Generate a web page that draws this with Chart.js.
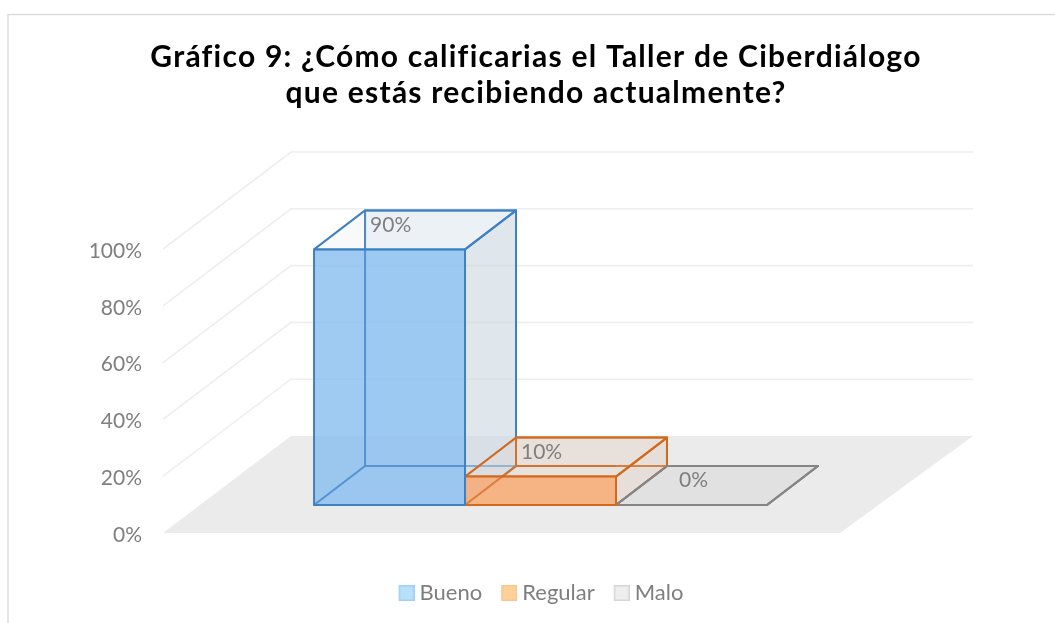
<!DOCTYPE html>
<html>
<head>
<meta charset="utf-8">
<style>html,body{margin:0;padding:0;background:#fff}canvas{display:block}</style>
<script src="https://cdn.jsdelivr.net/npm/chart.js@4"></script>
</head>
<body>
<div style="width:1055px;height:623px"><canvas id="c" width="1055" height="623"></canvas></div>
<script>
const chartTitle = ['Gráfico 9: ¿Cómo calificarias el Taller de Ciberdiálogo', 'que estás recibiendo actualmente?'];
const categories = ['Taller de Ciberdiálogo'];
const seriesNames = ['Bueno', 'Regular', 'Malo'];
const bueno = [90];
const regular = [10];
const malo = [0];
const yTicks = [0, 20, 40, 60, 80, 100];

const frontFill = ['rgba(135,190,240,0.8)', 'rgba(248,170,115,0.85)', 'rgba(225,225,225,0.8)'];
const edge = ['#3f80c2', '#d2691f', '#858585'];
const backFill = ['rgba(215,225,235,0.38)', 'rgba(225,205,190,0.2)', 'rgba(190,190,190,0.12)'];
const sideFill = ['rgba(205,215,225,0.5)', 'rgba(225,205,190,0.25)', 'rgba(190,190,190,0.12)'];
const topFill = ['rgba(225,232,240,0.25)', 'rgba(230,210,195,0.2)', 'rgba(200,200,200,0.12)'];
const legendBox = [['#b8e0fb', '#9fd0f7'], ['#ffd09a', '#fcc58c'], ['#eeeeee', '#d6d6d6']];
const grey = '#7f7f7f';
const floorDepth = {l: 128, r: 133, y: 97};
const barDepth = {x: 51, y: 39};
const barShift = {x: 39, y: 28};
const labelOffset = [[5, 15], [5, 15], [12, 14]];

function poly(ctx, pts, fill, stroke, lw) {
  ctx.beginPath();
  pts.forEach((p, i) => i ? ctx.lineTo(p[0], p[1]) : ctx.moveTo(p[0], p[1]));
  ctx.closePath();
  if (fill) { ctx.fillStyle = fill; ctx.fill(); }
  if (stroke) { ctx.strokeStyle = stroke; ctx.lineWidth = lw || 2; ctx.lineJoin = 'round'; ctx.stroke(); }
}
function boxOf(chart, i) {
  const el = chart.getDatasetMeta(i).data[0];
  return {l: el.x - el.width / 2 + barShift.x, r: el.x + el.width / 2 + barShift.x,
          t: el.y - barShift.y, b: el.base - barShift.y};
}
// legend swatch: blank on the left so that the 16px box sits close to its text
function swatch(i) {
  const c = document.createElement('canvas');
  c.width = 22; c.height = 16;
  const x = c.getContext('2d');
  x.fillStyle = legendBox[i][0];
  x.fillRect(6, 0, 16, 16);
  x.strokeStyle = legendBox[i][1]; x.lineWidth = 1.5;
  x.strokeRect(6.75, 0.75, 14.5, 14.5);
  return c;
}

const scene = {
  id: 'scene',
  beforeDraw(chart) {
    const ctx = chart.ctx;
    ctx.save();
    ctx.strokeStyle = '#dcdcdc'; ctx.lineWidth = 1.5;
    ctx.beginPath(); ctx.moveTo(8, 623); ctx.lineTo(8, 14.5); ctx.lineTo(1055, 14.5); ctx.stroke();
    ctx.restore();
    if (!chart.titleBlock._spaced) {
      const d = chart.titleBlock.draw;
      chart.titleBlock.draw = function () {
        ctx.save(); ctx.letterSpacing = '1.25px'; d.call(this); ctx.restore();
      };
      chart.titleBlock._spaced = true;
    }
  },
  afterLayout(chart) {
    const lg = chart.legend;
    lg.left += 5; lg.right += 5;
    lg.adjustHitBoxes();
  },
  beforeDatasetsDraw(chart) {
    const ctx = chart.ctx, a = chart.chartArea, ys = chart.scales.y;
    ctx.save();
    const y0 = ys.getPixelForValue(0);
    poly(ctx, [[a.left, y0], [a.left + floorDepth.l, y0 - floorDepth.y],
               [a.right + floorDepth.r, y0 - floorDepth.y], [a.right, y0]], '#ebebeb');
    ctx.strokeStyle = '#eeeeee'; ctx.lineWidth = 1.6;
    yTicks.filter(v => v > 0).forEach(v => {
      const y = ys.getPixelForValue(v);
      ctx.beginPath();
      ctx.moveTo(a.left, y);
      ctx.lineTo(a.left + floorDepth.l, y - floorDepth.y);
      ctx.lineTo(a.right + floorDepth.r, y - floorDepth.y);
      ctx.stroke();
    });
    const dx = barDepth.x, dy = barDepth.y;
    seriesNames.forEach((_, i) => {
      const b = boxOf(chart, i);
      poly(ctx, [[b.l, b.b], [b.r, b.b], [b.r + dx, b.b - dy], [b.l + dx, b.b - dy]], backFill[i], edge[i], 2);
      poly(ctx, [[b.l + dx, b.t - dy], [b.r + dx, b.t - dy], [b.r + dx, b.b - dy], [b.l + dx, b.b - dy]], backFill[i], edge[i], 2);
      poly(ctx, [[b.r, b.t], [b.r + dx, b.t - dy], [b.r + dx, b.b - dy], [b.r, b.b]], sideFill[i], edge[i], 2);
      poly(ctx, [[b.l, b.t], [b.r, b.t], [b.r + dx, b.t - dy], [b.l + dx, b.t - dy]], topFill[i], edge[i], 2);
    });
    ctx.restore();
    ctx.save();
    ctx.translate(barShift.x, -barShift.y);
  },
  afterDatasetsDraw(chart) {
    const ctx = chart.ctx;
    ctx.restore();
    ctx.save();
    const dx = barDepth.x, dy = barDepth.y;
    const vals = [bueno[0], regular[0], malo[0]];
    // hidden edges show through the translucent front faces
    ctx.globalAlpha = 0.6;
    [0, 1].forEach(i => {
      const b = boxOf(chart, i);
      ctx.strokeStyle = edge[i]; ctx.lineWidth = 2;
      ctx.beginPath();
      ctx.moveTo(b.l, b.b); ctx.lineTo(b.l + dx, b.b - dy);
      ctx.moveTo(Math.min(b.l + dx, b.r), b.b - dy); ctx.lineTo(b.r, b.b - dy);
      ctx.moveTo(b.l + dx, b.t - dy); ctx.lineTo(b.l + dx, b.b - dy);
      ctx.stroke();
    });
    ctx.globalAlpha = 1;
    [2, 1, 0].forEach(i => {
      const b = boxOf(chart, i);
      poly(ctx, [[b.l, b.t], [b.r, b.t], [b.r, b.b], [b.l, b.b]], null, edge[i], 2);
    });
    ctx.font = '21px Lato'; ctx.fillStyle = grey;
    ctx.textAlign = 'left'; ctx.textBaseline = 'middle';
    vals.forEach((v, i) => {
      const b = boxOf(chart, i);
      ctx.fillText(v + '%', b.l + dx + labelOffset[i][0], b.t - dy + labelOffset[i][1]);
    });
    ctx.restore();
  }
};

new Chart(document.getElementById('c'), {
  type: 'bar',
  data: {
    labels: categories,
    datasets: [
      {label: seriesNames[0], data: bueno, backgroundColor: frontFill[0]},
      {label: seriesNames[1], data: regular, backgroundColor: frontFill[1]},
      {label: seriesNames[2], data: malo, backgroundColor: frontFill[2]}
    ]
  },
  options: {
    responsive: false,
    animation: false,
    devicePixelRatio: 1,
    categoryPercentage: 0.669,
    barPercentage: 1,
    layout: {padding: {left: 17, right: 0, top: 0, bottom: 9}},
    plugins: {
      tooltip: {enabled: false},
      title: {
        display: true,
        text: chartTitle,
        color: '#000',
        font: {family: 'Lato', size: 30, weight: 'bold', lineHeight: 1.2},
        padding: {top: 39, bottom: 138}
      },
      legend: {
        position: 'bottom',
        labels: {
          color: grey, font: {family: 'Lato', size: 22}, padding: 19,
          usePointStyle: true, pointStyleWidth: 10, boxHeight: 16,
          generateLabels(chart) {
            return Chart.defaults.plugins.legend.labels.generateLabels(chart)
              .map((it, i) => Object.assign(it, {pointStyle: swatch(i)}));
          }
        }
      }
    },
    scales: {
      x: {
        display: true,
        grid: {display: false, drawTicks: false},
        border: {display: false},
        ticks: {display: false},
        afterFit(s) { s.height = 30; }
      },
      y: {
        min: 0, max: 100,
        grid: {display: false, drawTicks: false},
        border: {display: false},
        afterFit(s) { s.width = 146; },
        ticks: {
          padding: 21, stepSize: 20, color: grey, labelOffset: 2,
          font: {family: 'Lato', size: 21},
          callback: v => v + '%'
        }
      },
      r: {
        position: 'right',
        display: true,
        grid: {display: false, drawTicks: false},
        border: {display: false},
        ticks: {display: false},
        afterFit(s) { s.width = 215; }
      }
    }
  },
  plugins: [scene]
});
</script>
</body>
</html>
